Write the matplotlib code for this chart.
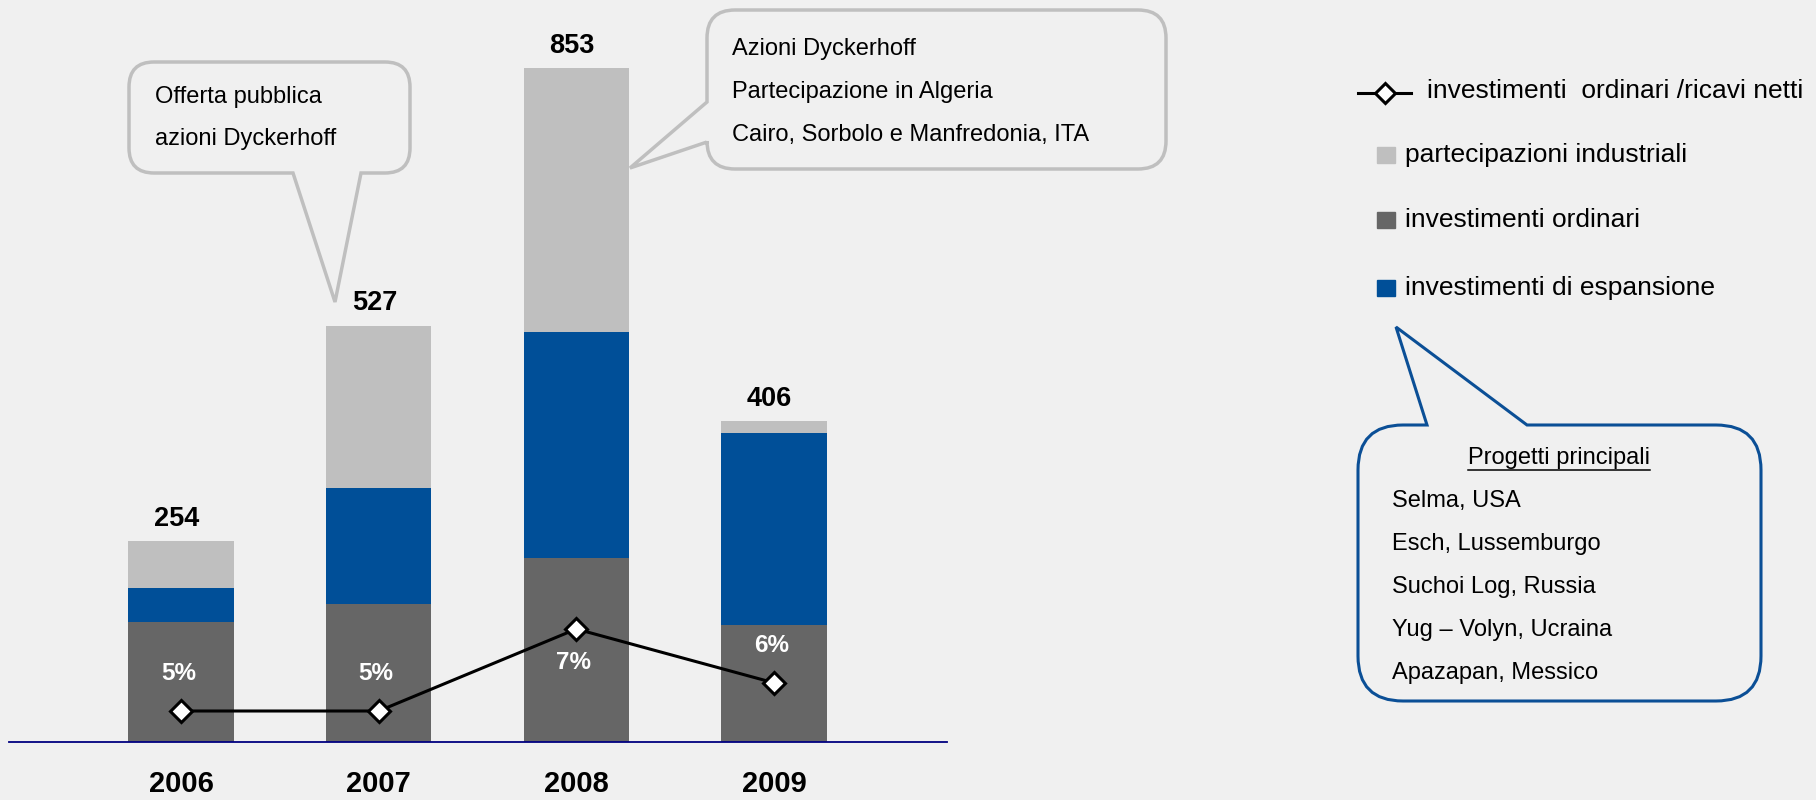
import numpy as np
import matplotlib
matplotlib.use("Agg")
import matplotlib.pyplot as plt
from matplotlib.path import Path
from matplotlib.patches import PathPatch, Rectangle
from matplotlib.lines import Line2D

plt.rcParams['font.family'] = ['Liberation Sans', 'DejaVu Sans']

#%% data

anni = ["2006", "2007", "2008", "2009"]
inv_ordinari = [152, 174, 233, 148]
inv_espansione = [43, 147, 286, 243]
partecipazioni = [59, 206, 334, 15]
totali = [254, 527, 853, 406]
rapporto = [5.3, 5.3, 6.9, 5.85]      # investimenti ordinari / ricavi netti, in %

legenda = ["investimenti  ordinari /ricavi netti", "partecipazioni industriali",
           "investimenti ordinari", "investimenti di espansione"]
nota_opa = ["Offerta pubblica", "azioni Dyckerhoff"]
nota_2008 = ["Azioni Dyckerhoff", "Partecipazione in Algeria",
             "Cairo, Sorbolo e Manfredonia, ITA"]
progetti_titolo = "Progetti principali"
progetti = ["Selma, USA", "Esch, Lussemburgo", "Suchoi Log, Russia",
            "Yug – Volyn, Ucraina", "Apazapan, Messico"]

BG = "#f0f0f0"
GRIGIO_CHIARO = "#bfbfbf"
GRIGIO_SCURO = "#666666"
BLU = "#004f98"
NAVY = "#000080"

W, H = 1816, 800

fig = plt.figure(figsize=(W / 100, H / 100), dpi=100, facecolor=BG)


def fx(x):
    return x / W


def fy(y):
    # pixel rows counted from the top
    return 1 - y / H


def fumetto(box, r, lato, base, punta, colore, lw):
    # rounded box with a speech tail, all in pixels from the top-left corner
    x0, y0, x1, y1 = box
    a, b = base
    verts, codes = [], []

    def go(p, c=Path.LINETO):
        verts.append(p)
        codes.append(c)

    go((x0 + r, y0), Path.MOVETO)
    if lato == "top":
        go((a, y0)); go(punta); go((b, y0))
    go((x1 - r, y0))
    go((x1, y0), Path.CURVE3); go((x1, y0 + r), Path.CURVE3)
    go((x1, y1 - r))
    go((x1, y1), Path.CURVE3); go((x1 - r, y1), Path.CURVE3)
    if lato == "bottom":
        go((b, y1)); go(punta); go((a, y1))
    go((x0 + r, y1))
    go((x0, y1), Path.CURVE3); go((x0, y1 - r), Path.CURVE3)
    if lato == "left":
        go((x0, b)); go(punta); go((x0, a))
    go((x0, y0 + r))
    go((x0, y0), Path.CURVE3); go((x0 + r, y0), Path.CURVE3)
    go((x0 + r, y0), Path.CLOSEPOLY)
    verts = [(fx(x), fy(y)) for x, y in verts]
    fig.add_artist(PathPatch(Path(verts, codes), transform=fig.transFigure,
                             facecolor=BG, edgecolor=colore, lw=lw,
                             joinstyle="miter", zorder=5))


#%% bars

ax = fig.add_axes([fx(9), fy(742), fx(938), 712 / H])
ax.patch.set_visible(False)
x = np.arange(len(anni))
larg = 0.533

ax.bar(x, inv_ordinari, larg, color=GRIGIO_SCURO)
ax.bar(x, inv_espansione, larg, bottom=inv_ordinari, color=BLU)
ax.bar(x, partecipazioni, larg, bottom=np.add(inv_ordinari, inv_espansione),
       color=GRIGIO_CHIARO)

for xi, tot in zip(x, totali):
    ax.annotate(str(tot), (xi, tot), xytext=(-3, 11), textcoords="offset points",
                ha="center", va="baseline", fontsize=19.5, fontweight="bold")

ax.set_xlim(-0.871, 3.876)
ax.set_ylim(0, 901)
ax.set_xticks(x, anni)
ax.tick_params(axis="x", length=0, pad=20, labelsize=21)
for lbl in ax.get_xticklabels():
    lbl.set_fontweight("bold")
ax.set_yticks([])
for s in ["top", "left", "right"]:
    ax.spines[s].set_visible(False)
ax.spines["bottom"].set_color(NAVY)
ax.spines["bottom"].set_linewidth(1.3)

# ratio line on its own scale
ax2 = ax.twinx()
ax2.set_ylim(4.695, 18.59)
ax2.axis("off")
ax2.plot(x, rapporto, color="black", lw=2.2, marker="D", ms=11,
         mfc="white", mec="black", mew=2.2)
for xi, v in zip(x, rapporto):
    off = -24 if v == max(rapporto) else 27
    ax2.annotate("%d%%" % round(v), (xi, v), xytext=(-2, off),
                 textcoords="offset points", ha="center", va="center",
                 fontsize=17.5, fontweight="bold", color="white")

#%% callouts

fumetto((129, 62, 410, 173), 25, "bottom", (293, 361), (335, 302), "#bfbfbf", 2.5)
for i, t in enumerate(nota_opa):
    fig.text(fx(155), fy(97 + 42 * i), t, fontsize=17, va="center", zorder=6)

fumetto((707, 10, 1166, 169), 28, "left", (102, 142), (630, 168), "#bfbfbf", 2.5)
for i, t in enumerate(nota_2008):
    fig.text(fx(732), fy(49 + 43 * i), t, fontsize=17, va="center", zorder=6)

fumetto((1358, 425, 1761, 701), 45, "top", (1427, 1527), (1396, 327), "#0b4f96", 2.2)
tit = fig.text(fx(1559), fy(458), progetti_titolo, fontsize=17, ha="center",
               va="center", zorder=6)
fig.canvas.draw()
bb = tit.get_window_extent()
fig.add_artist(Line2D([bb.x0 / W, bb.x1 / W], [fy(470)] * 2, color="black",
                      lw=1.1, zorder=6))
for i, t in enumerate(progetti):
    fig.text(fx(1392), fy(501 + 43 * i), t, fontsize=17, va="center", zorder=6)

#%% legend

fig.add_artist(Line2D([fx(1358), fx(1411)], [fy(93)] * 2, color="black", lw=2.2))
fig.add_artist(Line2D([fx(1385)], [fy(93)], marker="D", ms=10, mfc="white",
                      mec="black", mew=2.2, ls="none"))
fig.text(fx(1427), fy(91), legenda[0], fontsize=19, va="center")
for lab, col, yy in zip(legenda[1:], [GRIGIO_CHIARO, GRIGIO_SCURO, BLU],
                        [155, 220, 288]):
    fig.add_artist(Rectangle((fx(1377), fy(yy + 8)), 18 / W, 16 / H,
                             color=col, transform=fig.transFigure))
    fig.text(fx(1405), fy(yy), lab, fontsize=19, va="center")

fig.savefig("out.png", dpi=100, facecolor=BG)
